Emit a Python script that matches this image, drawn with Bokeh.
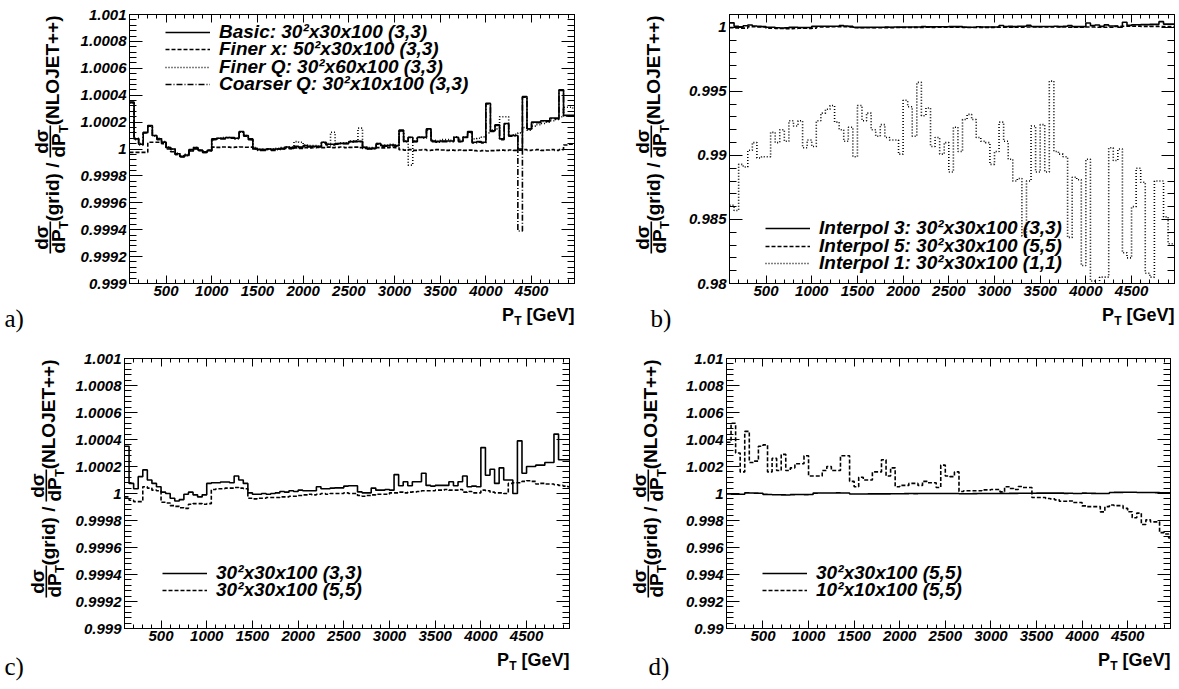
import numpy as np
from bokeh.plotting import figure
from bokeh.models import (Range1d, FixedTicker, CustomJSTickFormatter, LinearAxis, Label,
                          Legend, LegendItem, BoxAnnotation)
from bokeh.layouts import column, row
from bokeh.embed import file_html
from bokeh.resources import INLINE

# ---------------- data ----------------
# P_T histogram bin edges (GeV): 98 bins of 50 GeV
pt_edges = list(range(100, 5001, 50))
x_visible = (100, 4970)

x_major_ticks = [500, 1000, 1500, 2000, 2500, 3000, 3500, 4000, 4500]
x_minor_ticks = [v for v in range(100, 5000, 100) if v % 500 != 0]

ya_major = [0.999, 0.9992, 0.9994, 0.9996, 0.9998, 1.0, 1.0002, 1.0004, 1.0006, 1.0008, 1.001]
ya_minor = [round(0.999 + i * 0.00004, 6) for i in range(51)]
yb_major = [0.98, 0.985, 0.99, 0.995, 1.0]
yb_minor = [round(0.98 + i * 0.001, 4) for i in range(22)]
yd_major = [0.99, 0.992, 0.994, 0.996, 0.998, 1.0, 1.002, 1.004, 1.006, 1.008, 1.01]
yd_minor = [round(0.99 + i * 0.0004, 5) for i in range(51)]

# Basic: 30^2x30x100 (3,3)  (= Interpol 3)
basic = [
    1.00035, 1.000075, 1.000035, 1.000125, 1.000175, 1.0001, 1.000075, 1.00005, 1.00001, 1.0,
    0.999965, 0.999945, 0.999955, 0.999995, 1.00001, 0.99999, 0.999975, 0.99999, 1.000075, 1.00008,
    1.00008, 1.000085, 1.000085, 1.00008, 1.00013, 1.0001, 1.000075, 1.000005, 0.999995, 0.999995,
    1.0, 0.999995, 1.0, 1.000005, 1.000015, 1.00001, 1.00002, 1.000015, 1.000025, 1.00002,
    1.00002, 1.00002, 1.00005, 1.000035, 1.000035, 1.00004, 1.000042, 1.000042, 1.000055, 1.000057,
    1.000057, 1.000012, 1.000005, 1.000005, 1.00004, 1.000025, 1.000025, 1.00003, 1.000025, 1.00014,
    1.000057, 1.000087, 1.000057, 1.000087, 1.000087, 1.00015, 1.00006, 1.000055, 1.00006, 1.00006,
    1.00006, 1.000087, 1.000057, 1.000087, 1.00013, 1.00005, 1.000055, 1.00005, 1.00034, 1.000135,
    1.00018, 1.000075, 1.00019, 1.0001, 1.0001, 1.0, 1.00039, 1.00015, 1.0002, 1.0002,
    1.00021, 1.00021, 1.00023, 1.00023, 1.00044, 1.00025, 1.00025, 1.00025]

# Finer x: 50^2x30x100 (3,3)
finer_x = [
    0.999975, 0.999975, 0.999975, 0.999975, 1.00005, 1.00005, 1.00005, 1.00004, 1.0, 0.99998,
    0.99996, 0.999945, 0.99995, 0.999985, 1.0, 0.99999, 0.99998, 0.99999, 1.000014, 1.000012,
    1.000015, 1.000014, 1.000012, 1.000014, 1.000015, 1.000013, 1.000014, 1.0, 0.999995, 0.999998,
    1.0, 0.999998, 1.0, 1.000002, 1.000005, 1.000003, 1.000008, 1.000005, 1.00001, 1.000008,
    1.00001, 1.000012, 1.00001, 1.000014, 1.00001, 1.000012, 1.000015, 1.00001, 1.000012, 1.000014,
    1.00001, 1.000005, 1.000002, 1.000005, 1.00001, 1.000008, 1.00001, 1.000012, 1.00001, 0.999995,
    0.999992, 0.999995, 0.99999, 0.999993, 0.999995, 0.99999, 0.999992, 0.999995, 0.999993, 0.99999,
    0.999992, 0.99999, 0.999993, 0.99999, 0.999992, 0.999988, 0.999985, 0.999988, 0.999985, 0.999988,
    0.99999, 0.999992, 0.99999, 0.999993, 0.99999, 0.999992, 0.999995, 0.99999, 0.999993, 0.999995,
    0.99999, 0.999993, 0.999995, 0.99999, 0.999995, 1.00003, 1.000035, 1.000035]

# Finer Q: 30^2x60x100 (3,3)
finer_q = [
    1.00034, 1.00007, 1.00004, 1.00012, 1.00017, 1.0001, 1.00008, 1.000055, 1.000015, 1.0,
    0.99997, 0.99995, 0.99996, 0.99999, 1.00001, 0.99999, 0.99998, 0.99999, 1.00007, 1.00008,
    1.000085, 1.000085, 1.00008, 1.00008, 1.000125, 1.0001, 1.00007, 1.00001, 1.0, 0.999995,
    1.0, 1.0, 1.000005, 1.00001, 1.000015, 1.000015, 1.000055, 1.00005, 1.00003, 1.000025,
    1.000025, 1.00002, 1.00005, 1.00004, 1.000125, 1.00004, 1.000045, 1.000045, 1.00006, 1.00006,
    1.000155, 1.000015, 1.00001, 1.00001, 1.00004, 1.00003, 1.00003, 1.000035, 1.00003, 1.00013,
    1.00006, 0.99988, 1.00006, 1.00009, 1.00008, 1.00014, 1.000065, 1.00006, 1.00007, 1.00007,
    1.000065, 1.00009, 1.00007, 1.00009, 1.00012, 1.000075, 1.00008, 1.00009, 1.00012, 1.00014,
    1.00015, 1.00024, 1.00024, 1.0001, 1.00011, 1.00012, 1.00016, 1.00014, 1.00017, 1.00018,
    1.00019, 1.0002, 1.00021, 1.00022, 1.00024, 1.00031, 1.00031, 1.0003]

# Coarser Q: 30^2x10x100 (3,3)
coarser_q = [
    1.000345, 1.00008, 1.00003, 1.00012, 1.00017, 1.000095, 1.00007, 1.00005, 1.00001, 0.999995,
    0.99996, 0.99994, 0.99995, 0.99999, 1.000005, 0.99999, 0.999975, 0.999985, 1.00007, 1.000075,
    1.000075, 1.00008, 1.00008, 1.000075, 1.000125, 1.000095, 1.00007, 1.0, 0.99999, 0.99999,
    0.999995, 0.99999, 0.999995, 1.0, 1.00001, 1.000005, 1.000015, 1.00001, 1.00002, 1.000015,
    1.000015, 1.000015, 1.000045, 1.00003, 1.00003, 1.000035, 1.00004, 1.00004, 1.00005, 1.000055,
    1.000055, 1.00001, 1.0, 1.0, 1.000035, 1.00002, 1.00002, 1.000025, 1.00002, 1.000135,
    1.000055, 1.000085, 1.000055, 1.000085, 1.000085, 1.000145, 1.000055, 1.00005, 1.000055, 1.000055,
    1.000055, 1.000085, 1.000055, 1.000085, 1.000125, 1.000045, 1.00005, 1.000045, 1.000335, 1.00013,
    1.000175, 1.00007, 1.000185, 1.000095, 1.000095, 0.99939, 1.000385, 1.000145, 1.000195, 1.000195,
    1.000205, 1.000205, 1.000225, 1.000225, 1.000435, 1.000245, 1.000245, 1.000245]

# 30^2x30x100 (5,5)  (= Interpol 5)
interp5 = [
    0.999975, 0.99995, 0.99994, 0.99994, 1.00005, 1.00004, 1.000025, 1.00002, 0.999935, 0.99993,
    0.99991, 0.999905, 0.999895, 0.99989, 0.99992, 0.999925, 0.999925, 0.99992, 0.999925, 1.00003,
    1.000035, 1.000035, 1.00004, 1.00004, 1.000045, 1.00004, 1.000035, 0.999965, 0.99996, 0.999965,
    0.999965, 0.99997, 0.99997, 0.99997, 0.999975, 0.999975, 0.99998, 0.99998, 0.999985, 0.99999,
    0.999995, 0.99999, 0.999995, 1.0, 0.999995, 1.0, 1.0, 1.0, 1.000005, 1.0,
    1.0, 0.999985, 0.99998, 0.999985, 0.99999, 0.999995, 0.999995, 0.999995, 1.000005, 1.000005,
    1.00001, 1.000005, 1.00001, 1.000012, 1.000015, 1.00002, 1.00002, 1.00002, 1.000025, 1.000025,
    1.00003, 1.000025, 1.000025, 1.00003, 1.00001, 1.000015, 1.000005, 1.000005, 1.000025, 1.00002,
    1.00001, 1.000005, 1.000005, 1.0, 1.000075, 1.00008, 1.00008, 1.00009, 1.000095, 1.00009,
    1.00007, 1.000075, 1.00007, 1.00007, 1.000065, 1.00006, 1.000055, 1.00005]

# Interpol 1: 30^2x30x100 (1,1)
interp1 = [
    0.9861, 0.9857, 0.9893, 0.9891, 0.9904, 0.9910, 0.9898, 0.9899, 0.9899, 0.9918,
    0.9910, 0.9920, 0.9911, 0.9927, 0.9923, 0.9927, 0.9906, 0.9912, 0.9907, 0.9927,
    0.9933, 0.9936, 0.9939, 0.9926, 0.9920, 0.9911, 0.9922, 0.9899, 0.9939, 0.9927,
    0.9933, 0.9920, 0.9915, 0.9924, 0.9914, 0.9912, 0.9912, 0.9901, 0.9943, 0.9938,
    0.9915, 0.9957, 0.9931, 0.9937, 0.9907, 0.9914, 0.9901, 0.9910, 0.9887, 0.9922,
    0.9903, 0.9928, 0.9932, 0.9928, 0.9914, 0.9911, 0.9910, 0.9893, 0.9903, 0.9926,
    0.9911, 0.9897, 0.9880, 0.9882, 0.9837, 0.9880, 0.9923, 0.9887, 0.9924, 0.9887,
    0.9958, 0.9903, 0.9901, 0.9899, 0.9836, 0.9883, 0.9881, 0.9814, 0.9897, 0.9802,
    0.9790, 0.9805, 0.9805, 0.9906, 0.9896, 0.9905, 0.9824, 0.9820, 0.9860, 0.9890,
    0.9879, 0.9808, 0.9805, 0.9880, 0.9880, 0.9852, 0.9831, 0.9831]

# 10^2x10x100 (5,5)
coarse10 = [
    1.0038, 1.0052, 1.0030, 1.0016, 1.0046, 1.0023, 1.0024, 1.0035, 1.0036, 1.0016,
    1.0026, 1.0017, 1.0029, 1.0017, 1.0019, 1.0022, 1.0022, 1.0028, 1.0013, 1.0013,
    1.0013, 1.0017, 1.0020, 1.0017, 1.0017, 1.0028, 1.0028, 1.0009, 1.0005, 1.0012,
    1.0010, 1.0010, 1.0016, 1.0016, 1.0025, 1.0013, 1.0019, 1.0005, 1.0006, 1.0006,
    1.00075, 1.00075, 1.0006, 1.0009, 1.0008, 1.0008, 1.00045, 1.0021, 1.0013, 1.00125,
    1.0016, 1.00015, 1.0002, 1.0002, 1.0002, 1.0002, 1.00027, 1.00027, 1.0003, 1.0003,
    1.00012, 1.0005, 1.00037, 1.0003, 1.00052, 1.00045, 1.00045, 0.9997, 0.9997, 0.9997,
    0.99963, 0.9996, 0.99953, 0.99943, 0.99943, 0.99945, 0.99933, 0.99933, 0.99908, 0.99903,
    0.99903, 0.99903, 0.99864, 0.99903, 0.99915, 0.9991, 0.9991, 0.9989, 0.99865, 0.9982,
    0.99855, 0.9977, 0.99805, 0.9979, 0.9979, 0.9971, 0.9970, 0.9967]

legend_a = ["Basic: 30\u00b2x30x100 (3,3)", "Finer x: 50\u00b2x30x100 (3,3)",
            "Finer Q: 30\u00b2x60x100 (3,3)", "Coarser Q: 30\u00b2x10x100 (3,3)"]
legend_b = ["Interpol 3: 30\u00b2x30x100 (3,3)", "Interpol 5: 30\u00b2x30x100 (5,5)",
            "Interpol 1: 30\u00b2x30x100 (1,1)"]
legend_c = ["30\u00b2x30x100 (3,3)", "30\u00b2x30x100 (5,5)"]
legend_d = ["30\u00b2x30x100 (5,5)", "10\u00b2x10x100 (5,5)"]

# ---------------- styling helpers ----------------
FONT = "Liberation Sans"
SERIF = "Liberation Serif"
SOLID, DASHED, DOTTED, DASHDOT = "solid", "4 2", "1 2", "6 2 1 2"
LW = 1.6
BB = 20        # bottom border of every plot figure (x tick labels)
MID = 0.35     # distance (in em) from the baseline to the middle of the text box
LEG_H = 22     # height of one legend row box
ROT = np.pi / 2


def style_axis(ax, tin, tmin, labels, size="15px", standoff=3):
    ax.major_tick_in = tin
    ax.major_tick_out = 0
    ax.minor_tick_in = tmin
    ax.minor_tick_out = 0
    ax.axis_line_color = "black"
    ax.major_tick_line_color = "black"
    ax.minor_tick_line_color = "black"
    if labels:
        ax.formatter = CustomJSTickFormatter(code="return parseFloat(tick.toPrecision(8)).toString();")
        ax.major_label_text_font = FONT
        ax.major_label_text_font_style = "bold italic"
        ax.major_label_text_font_size = size
        ax.major_label_text_color = "black"
        ax.major_label_standoff = standoff
    else:
        ax.formatter = CustomJSTickFormatter(code="return '';")
        ax.major_label_text_font_size = "0px"
        ax.major_label_standoff = 0


def make_panel(width, height, bl, br, bt, bb, yr, ymaj, ymin):
    p = figure(width=width, height=height, output_backend="svg", toolbar_location=None,
               title=None, x_range=Range1d(*x_visible), y_range=Range1d(*yr),
               min_border_left=bl, min_border_right=br, min_border_top=bt, min_border_bottom=bb,
               background_fill_color="white", border_fill_color="white")
    p.grid.visible = False
    p.outline_line_color = "black"
    p.outline_line_width = 1
    xa = p.xaxis[0]
    xa.ticker = FixedTicker(ticks=x_major_ticks, minor_ticks=x_minor_ticks)
    style_axis(xa, 8, 4, True, standoff=2)
    ya = p.yaxis[0]
    ya.ticker = FixedTicker(ticks=ymaj, minor_ticks=ymin)
    style_axis(ya, 13, 7, True, standoff=3)
    ra = LinearAxis(ticker=FixedTicker(ticks=ymaj, minor_ticks=ymin))
    style_axis(ra, 13, 7, False)
    p.add_layout(ra, "right")
    ta = LinearAxis(ticker=FixedTicker(ticks=x_major_ticks, minor_ticks=x_minor_ticks))
    style_axis(ta, 8, 4, False)
    p.add_layout(ta, "above")
    return p


def blank(width, height, bt=0, bb=0):
    f = figure(width=width, height=height, output_backend="svg", toolbar_location=None,
               title=None, x_axis_type=None, y_axis_type=None,
               x_range=Range1d(0, 1), y_range=Range1d(0, 1),
               min_border_left=0, min_border_right=0, min_border_top=bt, min_border_bottom=bb,
               outline_line_color=None, background_fill_color="white", border_fill_color="white")
    f.grid.visible = False
    return f


def hist(p, values, dash):
    return p.step(x=pt_edges, y=list(values) + [values[-1]], mode="after",
                  line_color="black", line_width=LW, line_dash=dash)


def htext(p, x, base_y, text, px, style="bold", align="left", font=FONT):
    """horizontal text whose baseline lies at base_y (screen units, up from frame bottom)"""
    p.add_layout(Label(x=x, y=base_y + MID * px, x_units="screen", y_units="screen", text=text,
                       text_font=font, text_font_size="%dpx" % px, text_font_style=style,
                       text_align=align, text_baseline="middle", text_color="black"))


def vtext(p, base_x, y, text, px, align="left"):
    """text rotated by 90 deg (reading upwards) whose baseline lies at base_x"""
    p.add_layout(Label(x=base_x - MID * px, y=y, x_units="screen", y_units="screen", text=text,
                       angle=ROT, text_font=FONT, text_font_size="%dpx" % px,
                       text_font_style="bold", text_align=align, text_baseline="middle",
                       text_color="black"))


def frac(p, xb, y_lo, y_hi):
    vtext(p, xb - 11, (y_lo + y_hi) / 2.0, "d\u03c3", 19, align="center")
    p.add_layout(BoxAnnotation(left=xb - 10.0, right=xb - 8.4, bottom=y_lo, top=y_hi,
                               left_units="screen", right_units="screen",
                               bottom_units="screen", top_units="screen",
                               fill_color="black", fill_alpha=1.0, line_alpha=0.0))
    vtext(p, xb + 5.5, y_lo, "dP", 19, align="left")
    vtext(p, xb + 9.0, y_lo + 24.5, "T", 13, align="left")


def ylabel_fig(width, height, bt, xb, H):
    f = blank(width, height, bt=bt, bb=BB)
    vtext(f, xb, H - 1, "(NLOJET++)", 19, align="right")
    frac(f, xb, H - 143, H - 111)
    vtext(f, xb, H - 148, "(grid) /", 19, align="right")
    frac(f, xb, H - 239, H - 207)
    return f


def bottom_fig(width, height, xr, yb, letter, lx, ly):
    f = blank(width, height)
    htext(f, xr, yb, "[GeV]", 18, align="right")
    htext(f, xr - 53, yb - 4, "T", 12, align="right")
    htext(f, xr - 60.5, yb, "P", 18, align="right")
    htext(f, lx, ly, letter, 25, style="normal", font=SERIF)
    return f


def add_legend(p, items, x, centers):
    """one single-row legend per entry; centers = row centres above the frame bottom"""
    for (t, r), c in zip(items, centers):
        leg = Legend(items=[LegendItem(label=t, renderers=[r])],
                     location=(x, c - LEG_H / 2.0), orientation="vertical",
                     label_text_font=FONT, label_text_font_style="bold italic",
                     label_text_font_size="19px", label_text_color="black",
                     glyph_width=45, glyph_height=LEG_H, label_height=LEG_H, label_standoff=9,
                     spacing=0, padding=0, margin=0,
                     border_line_alpha=0.0, background_fill_alpha=0.0)
        p.add_layout(leg)


# ---------------- panel a ----------------
Ha, Hc = 269, 270
TOP_H = 14 + Ha + BB      # 303
BOT_H = 13 + Hc + BB      # 303
pa = make_panel(518, TOP_H, 57, 16, 14, BB, (0.999, 1.001), ya_major, ya_minor)
r_a1 = hist(pa, basic, SOLID)
r_a2 = hist(pa, finer_x, DASHED)
r_a3 = hist(pa, finer_q, DOTTED)
r_a4 = hist(pa, coarser_q, DASHDOT)
add_legend(pa, list(zip(legend_a, [r_a1, r_a2, r_a3, r_a4])), 36,
           [Ha - 17.7, Ha - 35.1, Ha - 52.5, Ha - 69.9])
ya_fig = ylabel_fig(72, TOP_H, 14, 59, Ha)
ba_fig = bottom_fig(590, 42, 574, 24, "a)", 4, 18)

# ---------------- panel b ----------------
pb = make_panel(504, TOP_H, 55, 4, 14, BB, (0.98, 1.001), yb_major, yb_minor)
r_b3 = hist(pb, interp1, DOTTED)
r_b2 = hist(pb, interp5, DASHED)
r_b1 = hist(pb, basic, SOLID)
add_legend(pb, list(zip(legend_b, [r_b1, r_b2, r_b3])), 36, [54.7, 37.2, 19.7])
yb_fig = ylabel_fig(84, TOP_H, 14, 70, Ha)
bb_fig = bottom_fig(588, 42, 584, 24, "b)", 60, 18)

# ---------------- panel c ----------------
pc = make_panel(520, BOT_H, 54, 21, 13, BB, (0.999, 1.001), ya_major, ya_minor)
r_c2 = hist(pc, interp5, DASHED)
r_c1 = hist(pc, basic, SOLID)
add_legend(pc, list(zip(legend_c, [r_c1, r_c2])), 38, [54.7, 38.0])
yc_fig = ylabel_fig(70, BOT_H, 13, 55, Hc)
bc_fig = bottom_fig(590, 40, 569, 22, "c)", 4, 13)

# ---------------- panel d ----------------
pd = make_panel(506, BOT_H, 54, 8, 13, BB, (0.99, 1.01), yd_major, yd_minor)
r_d2 = hist(pd, coarse10, DASHED)
r_d1 = hist(pd, interp5, SOLID)
add_legend(pd, list(zip(legend_d, [r_d1, r_d2])), 36, [54.7, 38.0])
yd_fig = ylabel_fig(82, BOT_H, 13, 67, Hc)
bd_fig = bottom_fig(588, 40, 580, 22, "d)", 58, 13)

layout = column(row(ya_fig, pa, yb_fig, pb), row(ba_fig, bb_fig),
                row(yc_fig, pc, yd_fig, pd), row(bc_fig, bd_fig))
open("out.html", "w").write(file_html(layout, INLINE))
